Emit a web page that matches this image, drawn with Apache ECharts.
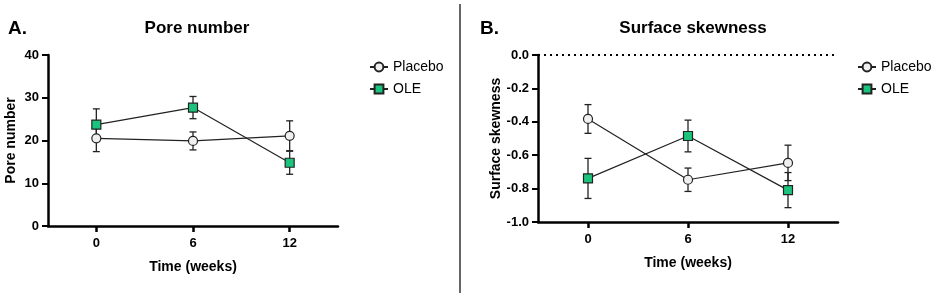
<!DOCTYPE html>
<html>
<head>
<meta charset="utf-8">
<script src="https://cdn.jsdelivr.net/npm/echarts@6.0.0/dist/echarts.min.js"></script>
<style>
  html, body { margin: 0; padding: 0; background: #fff; }
  #chart { width: 935px; height: 297px; }
</style>
</head>
<body>
<div id="chart"></div>
<script>
// weeks on the x axis
const weeks = [0, 6, 12];

// Pore number (mean and error)
const porePlacebo = [20.5, 19.9, 21.1];
const porePlaceboErr = [3.1, 2.1, 3.5];
const poreOle = [23.7, 27.7, 14.8];
const poreOleErr = [3.7, 2.6, 2.7];

// Surface skewness (mean and error)
const skewPlacebo = [-0.383, -0.747, -0.646];
const skewPlaceboErr = [0.086, 0.07, 0.106];
const skewOle = [-0.739, -0.485, -0.809];
const skewOleErr = [0.12, 0.095, 0.105];

const xTicks = [0, 6, 12];
const green = '#1BC47D';
const font = 'Liberation Sans, Arial, sans-serif';

var myChart = echarts.init(document.getElementById('chart'));

function pairs(means) {
  return weeks.map((w, i) => [w, means[i]]);
}
function errData(means, errs) {
  return weeks.map((w, i) => [w, means[i] - errs[i], means[i] + errs[i]]);
}

// draws a vertical error bar with caps
function renderErr(params, api) {
  const x = api.value(0);
  const lo = api.coord([x, api.value(1)]);
  const hi = api.coord([x, api.value(2)]);
  const cap = 3.5;
  const style = { stroke: '#222', lineWidth: 1.3 };
  return {
    type: 'group',
    children: [
      { type: 'line', shape: { x1: lo[0], y1: lo[1], x2: hi[0], y2: hi[1] }, style },
      { type: 'line', shape: { x1: lo[0] - cap, y1: lo[1], x2: lo[0] + cap, y2: lo[1] }, style },
      { type: 'line', shape: { x1: hi[0] - cap, y1: hi[1], x2: hi[0] + cap, y2: hi[1] }, style },
    ],
  };
}

function xAxis(gridIndex) {
  return {
    type: 'value',
    gridIndex,
    min: -3,
    max: 15,
    interval: 3,
    name: 'Time (weeks)',
    nameLocation: 'middle',
    nameGap: 34,
    nameTextStyle: { fontFamily: font, fontSize: 14, fontWeight: 'bold', color: '#000' },
    axisLine: { onZero: false, lineStyle: { color: '#000', width: 2.5 } },
    axisTick: { show: true, length: 6, customValues: xTicks, lineStyle: { color: '#000', width: 2.5 } },
    axisLabel: { customValues: xTicks, margin: 11, fontFamily: font, fontSize: 13, fontWeight: 'bold', color: '#000' },
    splitLine: { show: false },
  };
}

function yAxis(gridIndex, name, min, max, interval, nameGap, formatter) {
  return {
    type: 'value',
    gridIndex,
    min,
    max,
    interval,
    name,
    nameLocation: 'middle',
    nameGap,
    nameTextStyle: { fontFamily: font, fontSize: 14, fontWeight: 'bold', color: '#000' },
    axisLine: { show: true, onZero: false, lineStyle: { color: '#000', width: 2.5 } },
    axisTick: { show: true, length: 6, lineStyle: { color: '#000', width: 2 } },
    axisLabel: { margin: 9, fontFamily: font, fontSize: 13, fontWeight: 'bold', color: '#000', formatter },
    splitLine: { show: false },
  };
}

function placeboSeries(data, xi) {
  return {
    name: 'Placebo',
    type: 'line',
    xAxisIndex: xi,
    yAxisIndex: xi,
    data,
    z: 3,
    symbol: 'circle',
    symbolSize: 9,
    lineStyle: { color: '#222', width: 1.2 },
    itemStyle: { color: '#efefef', borderColor: '#222', borderWidth: 1.2 },
  };
}
function oleSeries(data, xi) {
  return {
    name: 'OLE',
    type: 'line',
    xAxisIndex: xi,
    yAxisIndex: xi,
    data,
    z: 4,
    symbol: 'rect',
    symbolSize: 9,
    lineStyle: { color: '#222', width: 1.2 },
    itemStyle: { color: green, borderColor: '#222', borderWidth: 1.2 },
  };
}
function errSeries(data, xi) {
  return {
    type: 'custom',
    xAxisIndex: xi,
    yAxisIndex: xi,
    z: 1,
    silent: true,
    renderItem: renderErr,
    data,
  };
}

const legendBase = {
  orient: 'vertical',
  itemWidth: 18,
  itemHeight: 11,
  itemGap: 8,
  textStyle: { fontFamily: font, fontSize: 14, color: '#000' },
  data: ['Placebo', 'OLE'],
};

const titleStyle = { fontFamily: font, fontSize: 17, fontWeight: 'bold', color: '#000' };

var option = {
  animation: false,
  backgroundColor: '#fff',
  title: [
    { text: 'A.', left: 3, top: 14, textStyle: { ...titleStyle, fontSize: 19 } },
    { text: 'Pore number', left: 192, top: 15, textAlign: 'center', textStyle: titleStyle },
    { text: 'B.', left: 475, top: 14, textStyle: { ...titleStyle, fontSize: 19 } },
    { text: 'Surface skewness', left: 688, top: 15, textAlign: 'center', textStyle: titleStyle },
  ],
  legend: [
    { ...legendBase, left: 364, top: 55 },
    { ...legendBase, left: 852, top: 55 },
  ],
  grid: [
    { left: 48, top: 55, width: 290, height: 171 },
    { left: 538, top: 55, width: 300, height: 167 },
  ],
  xAxis: [xAxis(0), xAxis(1)],
  yAxis: [
    yAxis(0, 'Pore number', 0, 40, 10, 30),
    yAxis(1, 'Surface skewness', -1, 0, 0.2, 33, (v) => v.toFixed(1)),
  ],
  graphic: [
    {
      type: 'line',
      shape: { x1: 460, y1: 4, x2: 460, y2: 293 },
      style: { stroke: '#333', lineWidth: 1.5 },
    },
  ],
  series: [
    errSeries(errData(porePlacebo, porePlaceboErr), 0),
    errSeries(errData(poreOle, poreOleErr), 0),
    placeboSeries(pairs(porePlacebo), 0),
    oleSeries(pairs(poreOle), 0),
    errSeries(errData(skewPlacebo, skewPlaceboErr), 1),
    errSeries(errData(skewOle, skewOleErr), 1),
    {
      ...placeboSeries(pairs(skewPlacebo), 1),
      markLine: {
        silent: true,
        symbol: 'none',
        label: { show: false },
        lineStyle: { color: '#000', type: [2, 4], width: 2 },
        data: [{ yAxis: 0 }],
      },
    },
    oleSeries(pairs(skewOle), 1),
  ],
};

option && myChart.setOption(option);
</script>
</body>
</html>
